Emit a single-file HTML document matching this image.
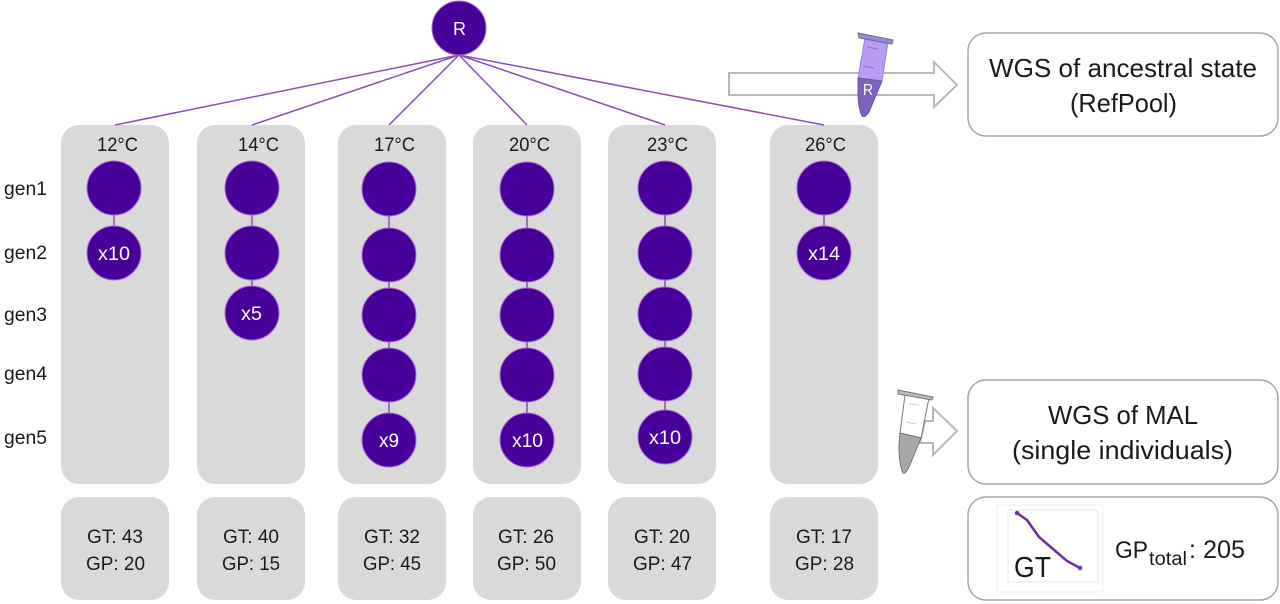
<!DOCTYPE html>
<html><head><meta charset="utf-8"><style>
html,body{margin:0;padding:0;background:#fff}
svg{display:block}
text{font-family:"Liberation Sans",sans-serif;fill:#1a1a1a}
.c{fill:#48009a;stroke:#a868d0;stroke-width:1}
.w{fill:#fff;font-size:19px}
.t{font-size:19px}
.g{font-size:19px}
.b{fill:#d9d9d9}
.o{fill:#fff;stroke:#a6a6a6;stroke-width:1.5}
.l{stroke:#8a4fb5;stroke-width:1.5;fill:none}
.a{fill:#fff;stroke:#b8b8b8;stroke-width:2}
</style></head><body>
<svg width="1280" height="604" viewBox="0 0 1280 604" xmlns="http://www.w3.org/2000/svg">
<rect class="b" x="61" y="125" width="108" height="359" rx="18"/>
<rect class="b" x="197" y="125" width="108" height="359" rx="18"/>
<rect class="b" x="338" y="125" width="108" height="359" rx="18"/>
<rect class="b" x="473" y="125" width="108" height="359" rx="18"/>
<rect class="b" x="608" y="125" width="108" height="359" rx="18"/>
<rect class="b" x="770" y="125" width="108" height="359" rx="18"/>
<rect class="b" x="61" y="497" width="108" height="103" rx="18"/>
<rect class="b" x="197" y="497" width="108" height="103" rx="18"/>
<rect class="b" x="338" y="497" width="108" height="103" rx="18"/>
<rect class="b" x="473" y="497" width="108" height="103" rx="18"/>
<rect class="b" x="608" y="497" width="108" height="103" rx="18"/>
<rect class="b" x="770" y="497" width="108" height="103" rx="18"/>

<path class="l" d="M459 55L115 125M459 55L252 125M459 55L389 125M459 55L527 125M459 55L665 125M459 55L824 125"/>
<path class="l" d="M114 188V252M252 188V313M389 189V440M527 189V440M665 188V437M824 188V253"/>

<circle class="c" cx="459" cy="28" r="27"/><text x="453" y="35" font-size="18" style="fill:#fff">R</text>

<circle class="c" cx="114" cy="188" r="27"/><circle class="c" cx="114" cy="253" r="27"/>
<circle class="c" cx="252" cy="188" r="27"/><circle class="c" cx="252" cy="253" r="27"/><circle class="c" cx="252" cy="313" r="27"/>
<circle class="c" cx="389" cy="189" r="27"/><circle class="c" cx="389" cy="255" r="27"/><circle class="c" cx="389" cy="315" r="27"/><circle class="c" cx="389" cy="375" r="27"/><circle class="c" cx="389" cy="440" r="27"/>
<circle class="c" cx="527" cy="189" r="27"/><circle class="c" cx="527" cy="255" r="27"/><circle class="c" cx="527" cy="315" r="27"/><circle class="c" cx="527" cy="375" r="27"/><circle class="c" cx="527" cy="440" r="27"/>
<circle class="c" cx="665" cy="188" r="27"/><circle class="c" cx="665" cy="253" r="27"/><circle class="c" cx="665" cy="314" r="27"/><circle class="c" cx="665" cy="374" r="27"/><circle class="c" cx="665" cy="437" r="27"/>
<circle class="c" cx="824" cy="188" r="27"/><circle class="c" cx="824" cy="253" r="27"/>

<text class="w" x="98" y="260" textLength="32" lengthAdjust="spacingAndGlyphs">x10</text>
<text class="w" x="241" y="320" textLength="21" lengthAdjust="spacingAndGlyphs">x5</text>
<text class="w" x="379" y="447" textLength="20" lengthAdjust="spacingAndGlyphs">x9</text>
<text class="w" x="512" y="447" textLength="31" lengthAdjust="spacingAndGlyphs">x10</text>
<text class="w" x="649" y="444" textLength="32" lengthAdjust="spacingAndGlyphs">x10</text>
<text class="w" x="808" y="260" textLength="32" lengthAdjust="spacingAndGlyphs">x14</text>

<text class="t" x="97" y="151" textLength="41" lengthAdjust="spacingAndGlyphs">12°C</text>
<text class="t" x="238" y="151" textLength="41" lengthAdjust="spacingAndGlyphs">14°C</text>
<text class="t" x="374" y="151" textLength="41" lengthAdjust="spacingAndGlyphs">17°C</text>
<text class="t" x="509" y="151" textLength="41" lengthAdjust="spacingAndGlyphs">20°C</text>
<text class="t" x="647" y="151" textLength="41" lengthAdjust="spacingAndGlyphs">23°C</text>
<text class="t" x="805" y="151" textLength="41" lengthAdjust="spacingAndGlyphs">26°C</text>

<text class="g" x="4" y="195" textLength="43" lengthAdjust="spacingAndGlyphs">gen1</text>
<text class="g" x="4" y="259" textLength="43" lengthAdjust="spacingAndGlyphs">gen2</text>
<text class="g" x="4" y="321" textLength="43" lengthAdjust="spacingAndGlyphs">gen3</text>
<text class="g" x="4" y="380" textLength="43" lengthAdjust="spacingAndGlyphs">gen4</text>
<text class="g" x="4" y="444" textLength="43" lengthAdjust="spacingAndGlyphs">gen5</text>

<text class="t" x="87" y="543" textLength="56" lengthAdjust="spacingAndGlyphs">GT: 43</text><text class="t" x="86" y="570" textLength="59" lengthAdjust="spacingAndGlyphs">GP: 20</text>
<text class="t" x="223" y="543" textLength="56" lengthAdjust="spacingAndGlyphs">GT: 40</text><text class="t" x="222" y="570" textLength="58" lengthAdjust="spacingAndGlyphs">GP: 15</text>
<text class="t" x="364" y="543" textLength="56" lengthAdjust="spacingAndGlyphs">GT: 32</text><text class="t" x="363" y="570" textLength="58" lengthAdjust="spacingAndGlyphs">GP: 45</text>
<text class="t" x="498" y="543" textLength="56" lengthAdjust="spacingAndGlyphs">GT: 26</text><text class="t" x="497" y="570" textLength="59" lengthAdjust="spacingAndGlyphs">GP: 50</text>
<text class="t" x="634" y="543" textLength="56" lengthAdjust="spacingAndGlyphs">GT: 20</text><text class="t" x="633" y="570" textLength="59" lengthAdjust="spacingAndGlyphs">GP: 47</text>
<text class="t" x="796" y="543" textLength="56" lengthAdjust="spacingAndGlyphs">GT: 17</text><text class="t" x="795" y="570" textLength="59" lengthAdjust="spacingAndGlyphs">GP: 28</text>

<rect class="o" x="968" y="33" width="310" height="103" rx="18"/>
<rect class="o" x="968" y="380" width="310" height="104" rx="18"/>
<rect class="o" x="968" y="497" width="310" height="103" rx="18"/>

<text x="989" y="77" font-size="26" textLength="268" lengthAdjust="spacingAndGlyphs">WGS of ancestral state</text>
<text x="1070" y="112" font-size="26" textLength="107" lengthAdjust="spacingAndGlyphs">(RefPool)</text>
<text x="1048" y="424" font-size="26" textLength="150" lengthAdjust="spacingAndGlyphs">WGS of MAL</text>
<text x="1012" y="459" font-size="26" textLength="221" lengthAdjust="spacingAndGlyphs">(single individuals)</text>

<path class="a" d="M729 73H934V62L957 85L934 107V95H729Z"/>
<path fill="#b79cf2" stroke="#9a85d8" stroke-width="1" d="M865 38L888 42L882 81L858 78Z"/>
<path fill="#7a62bd" stroke="#6a55a8" stroke-width="1" d="M858 78L882 81L869 112Q865 118 862 116Q858 108 858 92Z"/>
<path d="M858 33L893 40L892 44L859 38Z" fill="#9a85d8" stroke="#6a6a90" stroke-width="1"/>
<path d="M867 47L878 49M863 66L874 68" stroke="#8a72c8" stroke-width="1"/>
<text x="863" y="95" font-size="16" textLength="10" lengthAdjust="spacingAndGlyphs" style="fill:#fff">R</text>

<path class="a" d="M925 421H933V408L957 431L933 455V443H920Z"/>
<path fill="#fff" stroke="#777" stroke-width="1" d="M905 395L929 398L921 438L900 433Z"/>
<path fill="#a8a8a8" stroke="#777" stroke-width="1" d="M900 433L921 438L909 467Q905 475 903 473Q899 465 899 445Z"/>
<path d="M898 390L933 397L932 400L898 394Z" fill="#bbb" stroke="#777" stroke-width="1"/>
<path d="M909 404L919 405M906 422L916 424" stroke="#ccc" stroke-width="1"/>

<rect x="997" y="505" width="106" height="87" fill="#fff" stroke="#eee"/>
<rect x="1008" y="510" width="90" height="72" fill="#fff" stroke="#e4e4e4"/>
<path d="M1017 513L1027 520L1039 537L1053 549L1067 561L1080 568" fill="none" stroke="#6a2fa5" stroke-width="2.5"/>
<circle cx="1017" cy="513" r="2.2" fill="#6a2fa5"/><circle cx="1080" cy="568" r="2.2" fill="#6a2fa5"/>
<text x="1014" y="577" font-size="29" textLength="37" lengthAdjust="spacingAndGlyphs">GT</text>
<text x="1115" y="558" font-size="24" textLength="33" lengthAdjust="spacingAndGlyphs">GP</text>
<text x="1149" y="565" font-size="19" textLength="38" lengthAdjust="spacingAndGlyphs">total</text>
<text x="1189" y="558" font-size="25" textLength="56" lengthAdjust="spacingAndGlyphs">: 205</text>
</svg>
</body></html>
